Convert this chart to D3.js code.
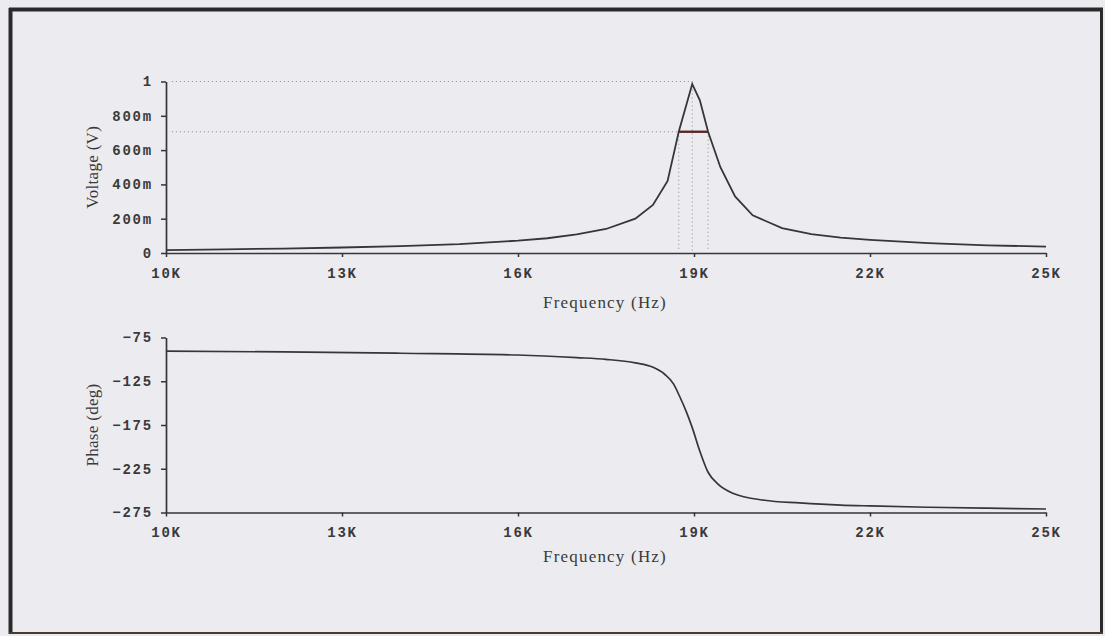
<!DOCTYPE html>
<html>
<head>
<meta charset="utf-8">
<script src="https://cdn.jsdelivr.net/npm/d3@7"></script>
<style>
  body { margin: 0; background: #ecebf0; }
  .tick text { font-family: "Liberation Mono", "DejaVu Sans Mono", monospace; font-weight: bold; font-size: 14px; letter-spacing: 1.8px; fill: #3a3a3a; }
  .axisTitle { font-family: "Liberation Serif", "DejaVu Serif", serif; font-size: 17px; fill: #3a3a3a; }
</style>
</head>
<body>
<div class="chart"></div>
<script>
// frequency in kHz
var freqK   = [10, 11, 12, 13, 14, 15, 16, 16.5, 17, 17.5, 18, 18.3, 18.55, 18.74, 18.97, 19.1, 19.24, 19.45, 19.7, 20, 20.5, 21, 21.5, 22, 23, 24, 25];
var voltage = [0.017, 0.021, 0.026, 0.032, 0.040, 0.052, 0.072, 0.086, 0.108, 0.14, 0.20, 0.28, 0.42, 0.707, 0.985, 0.89, 0.707, 0.50, 0.33, 0.22, 0.145, 0.11, 0.09, 0.077, 0.058, 0.045, 0.037];

var phaseFreqK = [10, 12, 14, 16, 17, 17.5, 18, 18.3, 18.5, 18.65, 18.76, 18.87, 18.97, 19.1, 19.24, 19.4, 19.66, 20.2, 20.8, 21.5, 22, 23, 24, 25];
var phase      = [-90.5, -91.5, -93, -95, -98, -100, -104, -109, -117, -128, -143, -160, -178, -205, -229, -242, -253, -261, -264, -266.5, -267.5, -269, -270, -271];

// cursor markers (peak and half-power points)
var peakLevel = 1;
var halfLevel = 0.707;
var cursorFreqK = [18.74, 18.97, 19.24];

var freqTicks = [10, 13, 16, 19, 22, 25];
var freqTickLabels = ["10K", "13K", "16K", "19K", "22K", "25K"];
var voltTicks = [0, 0.2, 0.4, 0.6, 0.8, 1];
var voltTickLabels = ["0", "200m", "400m", "600m", "800m", "1"];
var phaseTicks = [-275, -225, -175, -125, -75];

var svgWidth = 1105, svgHeight = 636;
var ink = "#363636";

var svg = d3.select(".chart")
    .append("svg")
    .attr("width", svgWidth)
    .attr("height", svgHeight);

// frame
svg.append("rect").attr("x", 0).attr("y", 0).attr("width", svgWidth).attr("height", svgHeight).attr("fill", "#ecebf0");
svg.append("line").attr("x1", 9).attr("x2", 1103).attr("y1", 9.5).attr("y2", 9.5).attr("stroke", "#2a2a2a").attr("stroke-width", 4);
svg.append("line").attr("x1", 10.5).attr("x2", 10.5).attr("y1", 8).attr("y2", 634).attr("stroke", "#2a2a2a").attr("stroke-width", 4);
svg.append("line").attr("x1", 1101.5).attr("x2", 1101.5).attr("y1", 8).attr("y2", 634).attr("stroke", "#2a2a2a").attr("stroke-width", 3);
svg.append("line").attr("x1", 9).attr("x2", 1103).attr("y1", 633).attr("y2", 633).attr("stroke", "#4a3a30").attr("stroke-width", 2);

var x = d3.scaleLinear().domain([10, 25]).range([166, 1046]);
var yV = d3.scaleLinear().domain([0, 1]).range([253, 81.5]);
var yP = d3.scaleLinear().domain([-275, -75]).range([512.5, 337.5]);

function styleAxis(g) {
    g.select(".domain").attr("stroke", ink).attr("stroke-width", 1.7);
    g.selectAll(".tick line").attr("stroke", ink).attr("stroke-width", 1.5);
}

function drawPanel(yScale, yTicks, yFormat, yTitle, axisY, titleY) {
    var xAxis = d3.axisBottom(x)
        .tickValues(freqTicks)
        .tickSize(4)
        .tickSizeOuter(0)
        .tickPadding(11)
        .tickFormat((d, i) => freqTickLabels[i]);
    svg.append("g")
        .attr("transform", `translate(0,${axisY})`)
        .call(xAxis)
        .call(styleAxis);

    var yAxis = d3.axisLeft(yScale)
        .tickValues(yTicks)
        .tickSize(5)
        .tickSizeOuter(0)
        .tickPadding(8)
        .tickFormat(yFormat);
    svg.append("g")
        .attr("transform", "translate(166,0)")
        .call(yAxis)
        .call(styleAxis);

    svg.append("text")
        .attr("class", "axisTitle")
        .attr("text-anchor", "middle")
        .attr("letter-spacing", 1.2)
        .attr("x", 605)
        .attr("y", titleY)
        .text("Frequency (Hz)");

    var mid = (yScale.range()[0] + yScale.range()[1]) / 2;
    svg.append("text")
        .attr("class", "axisTitle")
        .attr("text-anchor", "middle")
        .attr("letter-spacing", 0.3)
        .attr("transform", `translate(98,${mid}) rotate(-90)`)
        .text(yTitle);
}

drawPanel(yV, voltTicks, (d, i) => voltTickLabels[i], "Voltage (V)", 253, 308);
drawPanel(yP, phaseTicks, d3.format("d"), "Phase (deg)", 512.5, 562);

// cursor dotted guides
var dotted = { stroke: "#8a8a8a", width: 1, dash: "1,3" };
svg.append("line")
    .attr("x1", x(10.1)).attr("x2", x(cursorFreqK[1]))
    .attr("y1", yV(peakLevel)).attr("y2", yV(peakLevel))
    .attr("stroke", dotted.stroke).attr("stroke-dasharray", dotted.dash);
svg.append("line")
    .attr("x1", x(10.1)).attr("x2", x(cursorFreqK[0]))
    .attr("y1", yV(halfLevel)).attr("y2", yV(halfLevel))
    .attr("stroke", dotted.stroke).attr("stroke-dasharray", dotted.dash);
svg.selectAll(".vcursor")
    .data(cursorFreqK)
    .enter()
    .append("line")
    .attr("class", "vcursor")
    .attr("x1", d => x(d)).attr("x2", d => x(d))
    .attr("y1", (d, i) => i === 1 ? yV(peakLevel) : yV(halfLevel))
    .attr("y2", yV(0) - 2)
    .attr("stroke", dotted.stroke).attr("stroke-dasharray", dotted.dash);

// voltage trace
var vLine = d3.line()
    .x((d, i) => x(freqK[i]))
    .y(d => yV(d));
svg.append("path")
    .datum(voltage)
    .attr("d", vLine)
    .attr("fill", "none")
    .attr("stroke", ink)
    .attr("stroke-width", 1.8);

// half-power bar
svg.append("line")
    .attr("x1", x(cursorFreqK[0])).attr("x2", x(cursorFreqK[2]))
    .attr("y1", yV(halfLevel)).attr("y2", yV(halfLevel))
    .attr("stroke", "#5a2a2a")
    .attr("stroke-width", 2.4);

// phase trace
var pLine = d3.line()
    .x((d, i) => x(phaseFreqK[i]))
    .y(d => yP(d))
    .curve(d3.curveMonotoneX);
svg.append("path")
    .datum(phase)
    .attr("d", pLine)
    .attr("fill", "none")
    .attr("stroke", ink)
    .attr("stroke-width", 1.7);
</script>
</body>
</html>
